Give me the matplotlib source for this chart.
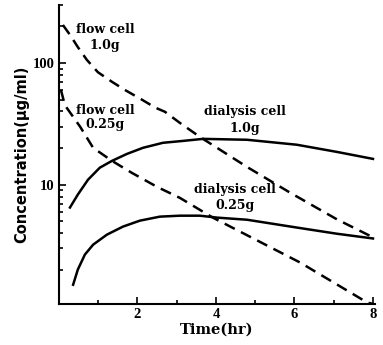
import matplotlib
matplotlib.use('Agg')
import matplotlib.pyplot as plt
from matplotlib.ticker import LogLocator, NullFormatter, FixedLocator, FixedFormatter
import numpy as np

plt.rcParams['font.family'] = ['DejaVu Serif']
plt.rcParams['font.weight'] = 'bold'

# flow cell 1.0g (dashed)
flow1_t = [0.10, 0.28, 0.48, 0.71, 0.99, 1.35, 1.68, 2.11, 2.45, 2.70, 3.08, 3.59,
           4.79, 5.89, 7.08, 8.0]
flow1_c = [205, 170, 135, 106, 84, 70, 60, 50, 43, 39.7, 32.2, 24.7,
           14.0, 8.6, 5.2, 3.7]

# flow cell 0.25g (dashed)
flow025_t = [0.05, 0.15, 0.54, 0.87, 1.35, 1.86, 2.50, 3.08, 3.67, 3.92, 6.14, 7.85, 8.0]
flow025_c = [60, 45, 29.9, 20.1, 15.7, 12.5, 9.6, 7.8, 6.0, 5.37, 2.3, 1.08, 1.05]

# dialysis cell 1.0g (solid)
dial1_t = [0.28, 0.48, 0.74, 1.04, 1.35, 1.73, 2.14, 2.65, 3.16, 3.67, 4.79, 6.06, 7.08, 8.0]
dial1_c = [6.5, 8.3, 11.0, 13.8, 15.7, 17.9, 20.1, 22.1, 22.9, 23.8, 23.4, 21.3, 18.6, 16.3]

# dialysis cell 0.25g (solid)
dial025_t = [0.36, 0.48, 0.66, 0.87, 1.22, 1.63, 2.06, 2.57, 3.08, 3.59, 4.03, 4.79,
             6.06, 7.08, 8.0]
dial025_c = [1.51, 2.01, 2.67, 3.22, 3.89, 4.53, 5.07, 5.47, 5.57, 5.57, 5.37, 5.16,
             4.45, 3.96, 3.62]

fig = plt.figure(figsize=(3.83, 3.45), dpi=100)
ax = fig.add_axes([0.154, 0.119, 0.825, 0.867])

dash = (0, (4.5, 2.8))
ax.plot(flow1_t, flow1_c, color='black', lw=1.8, linestyle=dash)
ax.plot(flow025_t, flow025_c, color='black', lw=1.8, linestyle=dash)
ax.plot(dial1_t, dial1_c, color='black', lw=1.8)
ax.plot(dial025_t, dial025_c, color='black', lw=1.8)

txt = dict(ha='center', va='center', fontsize=9, fontweight='bold')
ax.text(1.17, 187, 'flow cell', **txt)
ax.text(1.17, 140, '1.0g', **txt)
ax.text(1.17, 41, 'flow cell', **txt)
ax.text(1.17, 31, '0.25g', **txt)
ax.text(4.74, 39.6, 'dialysis cell', **txt)
ax.text(4.74, 29, '1.0g', **txt)
ax.text(4.48, 9.1, 'dialysis cell', **txt)
ax.text(4.48, 6.7, '0.25g', **txt)

ax.set_yscale('log')
ax.set_xlim(0, 8.05)
ax.set_ylim(1.05, 300)

ax.xaxis.set_major_locator(FixedLocator([2, 4, 6, 8]))
ax.xaxis.set_minor_locator(FixedLocator([1, 3, 5, 7]))
ax.yaxis.set_major_locator(FixedLocator([10, 100]))
ax.yaxis.set_major_formatter(FixedFormatter(['10', '100']))
ax.yaxis.set_minor_locator(LogLocator(base=10, subs=np.arange(2, 10)))
ax.yaxis.set_minor_formatter(NullFormatter())

ax.tick_params(which='both', direction='in', width=1.2, labelsize=10.5, pad=3)
ax.tick_params(which='major', length=5)
ax.tick_params(which='minor', length=3)
for lab in ax.get_xticklabels() + ax.get_yticklabels():
    lab.set_fontweight('bold')
    lab.set_family(['Liberation Serif'])

ax.spines['top'].set_visible(False)
ax.spines['right'].set_visible(False)
ax.spines['left'].set_linewidth(1.5)
ax.spines['bottom'].set_linewidth(1.5)

ax.set_xlabel('Time(hr)', fontsize=10.5, fontweight='bold', labelpad=1)
ax.set_ylabel('Concentration(μg/ml)', fontsize=10.5, fontweight='bold',
              family=['DejaVu Sans'], labelpad=3)

fig.savefig('out.png', dpi=100)
